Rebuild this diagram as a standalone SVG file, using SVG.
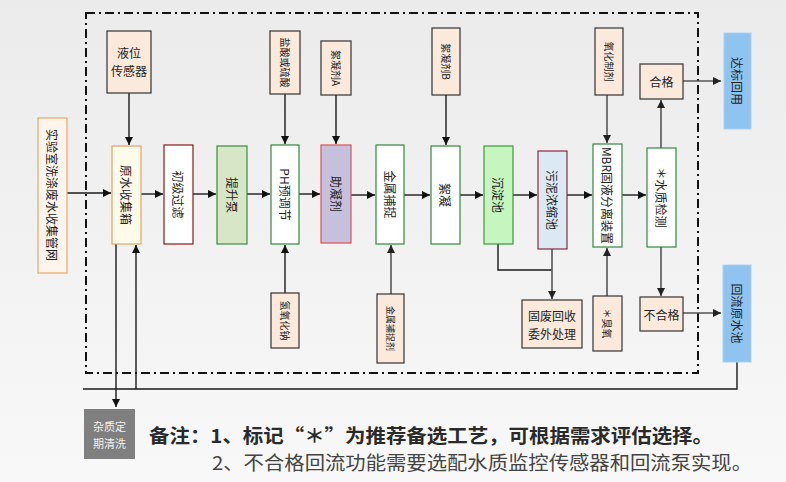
<svg xmlns="http://www.w3.org/2000/svg" width="786" height="482" viewBox="0 0 786 482">
<defs>
<linearGradient id="bg" x1="0" y1="0" x2="0" y2="1">
<stop offset="0" stop-color="#ebebeb"/>
<stop offset="1" stop-color="#f8f8f8"/>
</linearGradient>
<marker id="ah" markerUnits="userSpaceOnUse" markerWidth="9" markerHeight="9" refX="8" refY="4" orient="auto">
<path d="M0,0 L8,4 L0,8 z" fill="#111"/>
</marker>
<marker id="ahg" markerUnits="userSpaceOnUse" markerWidth="9" markerHeight="9" refX="8" refY="4" orient="auto">
<path d="M0,0 L8,4 L0,8 z" fill="#222"/>
</marker>
</defs>
<style>
text{font-family:"Noto Sans CJK SC","Liberation Sans",sans-serif;fill:#222}
.v{font-size:12px;text-anchor:middle;dominant-baseline:central}
.vs{font-size:10px;text-anchor:middle;dominant-baseline:central}
.h{font-size:12px;text-anchor:middle;dominant-baseline:central}
.reag{fill:#fbe9db;stroke:#333;stroke-width:1.2}
.proc{fill:#ffffff;stroke:#2f8a3c;stroke-width:1.2}
.blue{fill:#90c4f0;stroke:#a8d2f4;stroke-width:1}
.c{fill:none;stroke:#1a1a1a;stroke-width:1.4}
.cg{fill:none;stroke:#555;stroke-width:1.6}
</style>
<rect x="0" y="0" width="786" height="482" fill="url(#bg)"/>
<rect x="86" y="13" width="612" height="360" fill="none" stroke="#111" stroke-width="2" stroke-dasharray="9,4,2,4"/>

<g id="connectors">
<path class="c" d="M67,193 H111" marker-end="url(#ah)"/>
<path class="c" d="M141,194 H163" marker-end="url(#ah)"/>
<path class="c" d="M193,194 H216" marker-end="url(#ah)"/>
<path class="c" d="M247,194 H270" marker-end="url(#ah)"/>
<path class="c" d="M299,194 H320" marker-end="url(#ah)"/>
<path class="c" d="M351,195 H375" marker-end="url(#ah)"/>
<path class="c" d="M404,195 H430" marker-end="url(#ah)"/>
<path class="c" d="M460,195 H483" marker-end="url(#ah)"/>
<path class="c" d="M513,195 H537" marker-end="url(#ah)"/>
<path class="c" d="M567,195 H592" marker-end="url(#ah)"/>
<path class="c" d="M622,195 H646" marker-end="url(#ah)"/>
<path class="c" d="M129,93 V145" marker-end="url(#ah)"/>
<path class="c" d="M285,94 V144" marker-end="url(#ah)"/>
<path class="c" d="M336,95 V144" marker-end="url(#ah)"/>
<path class="c" d="M446,95 V145" marker-end="url(#ah)"/>
<path class="cg" d="M607,95 V143" marker-end="url(#ahg)"/>
<path class="cg" d="M661,148 V100" marker-end="url(#ahg)"/>
<path class="cg" d="M683,81 H721" marker-end="url(#ahg)"/>
<path class="cg" d="M661,247 V296" marker-end="url(#ahg)"/>
<path class="cg" d="M683,313 H721" marker-end="url(#ahg)"/>
<path class="c" d="M285,293 V245" marker-end="url(#ah)"/>
<path class="cg" d="M391,294 V245" marker-end="url(#ahg)"/>
<path class="cg" d="M607,296 V248" marker-end="url(#ahg)"/>
<path class="c" d="M498,244 V270 H552"/>
<path class="cg" d="M552,249 V299" marker-end="url(#ahg)"/>
<path class="c" d="M737,362 V389 H83"/>
<path class="c" d="M136,389 V245" marker-end="url(#ah)"/>
<path class="c" d="M116,244 V407" marker-end="url(#ah)"/>
</g>

<g id="n-source">
<rect x="38" y="118" width="29" height="155" fill="#fdf5ec" stroke="#e8a868" stroke-width="1.2"/>
<text class="v" transform="translate(52.5,195) rotate(90)">实验室洗涤废水收集管网</text>
</g>
<g id="n-level">
<rect class="reag" x="107" y="31" width="44" height="62"/>
<text class="h" x="129" y="52">液位</text>
<text class="h" x="129" y="70">传感器</text>
</g>
<g id="n-tank">
<rect x="112" y="146" width="29" height="98" fill="#fffbea" stroke="#e6a55a" stroke-width="1.2"/>
<text class="v" transform="translate(126.5,195) rotate(90)">原水收集箱</text>
</g>
<g id="n-filter">
<rect x="164" y="145" width="29" height="99" fill="#fff" stroke="#8b1a1a" stroke-width="1.2"/>
<text class="v" transform="translate(178.5,194.5) rotate(90)">初级过滤</text>
</g>
<g id="n-pump">
<rect x="217" y="146" width="30" height="98" fill="#d8e6c8" stroke="#3c8a3c" stroke-width="1.2"/>
<text class="v" transform="translate(232,195) rotate(90)">提升泵</text>
</g>
<g id="n-ph">
<rect class="proc" x="271" y="145" width="28" height="99"/>
<text class="v" transform="translate(285,194.5) rotate(90)">PH预调节</text>
</g>
<g id="n-coag">
<rect x="321" y="145" width="30" height="98" fill="#c5c0dc" stroke="#e05050" stroke-width="1.2"/>
<text class="v" transform="translate(336,194) rotate(90)">助凝剂</text>
</g>
<g id="n-metal">
<rect class="proc" x="376" y="145" width="28" height="99"/>
<text class="v" transform="translate(390,194.5) rotate(90)">金属捕捉</text>
</g>
<g id="n-floc">
<rect class="proc" x="431" y="146" width="29" height="98"/>
<text class="v" transform="translate(445.5,195) rotate(90)">絮凝</text>
</g>
<g id="n-settle">
<rect x="484" y="146" width="29" height="98" fill="#c6f5c0" stroke="#3a9a3a" stroke-width="1.2"/>
<text class="v" transform="translate(498.5,195) rotate(90)">沉淀池</text>
</g>
<g id="n-sludge">
<rect x="538" y="151" width="29" height="98" fill="#dbe9f2" stroke="#8b2a3a" stroke-width="1.2"/>
<text class="v" transform="translate(552.5,200) rotate(90)">污泥浓缩池</text>
</g>
<g id="n-mbr">
<rect class="proc" x="593" y="144" width="29" height="103"/>
<text class="v" transform="translate(607.5,195.5) rotate(90)">MBR固液分离装置</text>
</g>
<g id="n-quality">
<rect class="proc" x="647" y="148" width="29" height="99"/>
<text class="v" transform="translate(661.5,197.5) rotate(90)">＊水质检测</text>
</g>
<g id="n-acid">
<rect class="reag" x="270" y="31" width="30" height="63"/>
<text class="vs" transform="translate(285,62.5) rotate(90)">盐酸或硫酸</text>
</g>
<g id="n-floca">
<rect class="reag" x="321" y="41" width="30" height="54"/>
<text class="vs" transform="translate(336,68) rotate(90)">絮凝剂A</text>
</g>
<g id="n-flocb">
<rect class="reag" x="432" y="28" width="28" height="67"/>
<text class="vs" transform="translate(446,61.5) rotate(90)">絮凝剂B</text>
</g>
<g id="n-oxid">
<rect class="reag" x="595" y="28" width="28" height="67"/>
<text class="vs" transform="translate(609,61.5) rotate(90)">氧化制剂</text>
</g>
<g id="n-pass">
<rect class="reag" x="640" y="64" width="43" height="35"/>
<text class="h" x="661.5" y="81.5">合格</text>
</g>
<g id="n-reuse">
<rect class="blue" x="724" y="33" width="27" height="96"/>
<text class="v" transform="translate(737.5,81) rotate(90)">达标回用</text>
</g>
<g id="n-naoh">
<rect class="reag" x="271" y="293" width="28" height="55"/>
<text class="vs" transform="translate(285,320.5) rotate(90)">氢氧化钠</text>
</g>
<g id="n-capt">
<rect class="reag" x="377" y="294" width="27" height="69"/>
<text class="vs" style="font-size:9px" transform="translate(390.5,328.5) rotate(90)">金属捕捉剂</text>
</g>
<g id="n-solid">
<rect class="reag" x="522" y="300" width="60" height="48"/>
<text class="h" x="552" y="315">固废回收</text>
<text class="h" x="552" y="333">委外处理</text>
</g>
<g id="n-ozone">
<rect class="reag" x="593" y="296" width="29" height="55"/>
<text class="vs" transform="translate(607.5,323.5) rotate(90)">＊臭氧</text>
</g>
<g id="n-fail">
<rect class="reag" x="640" y="297" width="43" height="34"/>
<text class="h" x="661.5" y="314">不合格</text>
</g>
<g id="n-return">
<rect class="blue" x="723" y="265" width="28" height="97"/>
<text class="v" transform="translate(737,313.5) rotate(90)">回流原水池</text>
</g>
<g id="n-clean">
<rect x="84" y="409" width="51" height="50" fill="#7f7f7f"/>
<text x="109.5" y="426" style="font-size:11px;fill:#f2f2f2;text-anchor:middle;dominant-baseline:central">杂质定</text>
<text x="109.5" y="443" style="font-size:11px;fill:#f2f2f2;text-anchor:middle;dominant-baseline:central">期清洗</text>
</g>
<g id="notes">
<text x="149" y="443" style="font-size:19px;font-weight:bold;fill:#2a2a2a" textLength="564" lengthAdjust="spacingAndGlyphs">备注：1、标记“＊”为推荐备选工艺，可根据需求评估选择。</text>
<text x="212" y="470" style="font-size:19px;fill:#444" textLength="540" lengthAdjust="spacingAndGlyphs">2、不合格回流功能需要选配水质监控传感器和回流泵实现。</text>
</g>
</svg>
